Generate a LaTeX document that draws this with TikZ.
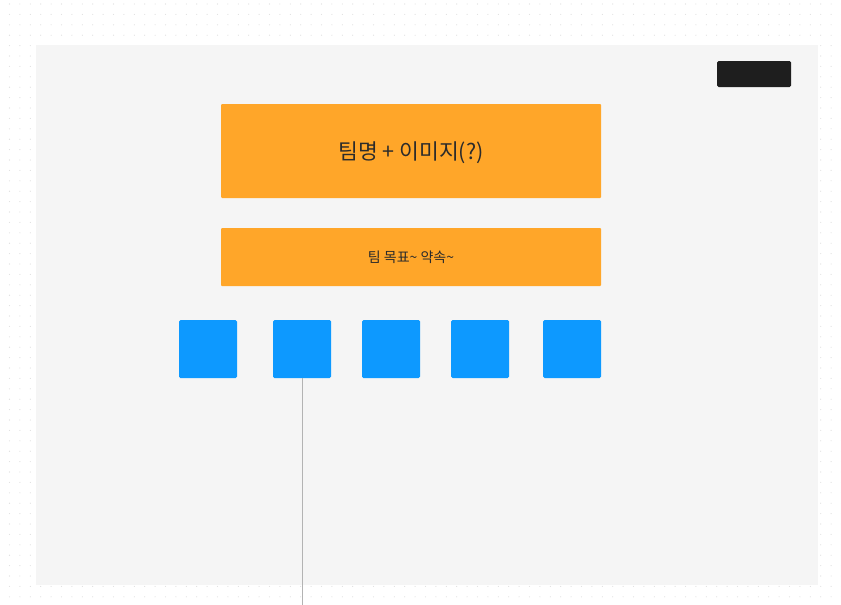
\documentclass[tikz,border=0pt]{standalone}
\usepackage{fontspec}
\setmainfont{Noto Sans CJK KR}
\definecolor{panel}{HTML}{F5F5F5}
\definecolor{orangebox}{HTML}{FFA629}
\definecolor{bluebox}{HTML}{0D99FF}
\definecolor{darkbox}{HTML}{1E1E1E}
\definecolor{txt}{HTML}{2B2B2B}
\definecolor{griddot}{HTML}{DCDCDC}
\definecolor{connector}{HTML}{B3B3B3}
\tikzset{
  obox/.style={fill=orangebox, draw=none, rounded corners=1pt, inner sep=0pt, text=txt},
  bsq/.style={fill=bluebox, draw=none, rounded corners=1.5pt, minimum width=58pt, minimum height=58pt, inner sep=0pt},
  link/.style={draw=connector, line width=0.8pt}
}
\begin{document}
\begin{tikzpicture}[x=1pt,y=-1pt]
\useasboundingbox (0,0) rectangle (841,605);
\fill[white] (0,0) rectangle (841,605);
% dot grid
\foreach \i in {0,...,80}{
  \foreach \j in {0,...,58}{
    \fill[griddot] ({9.5+10.4*\i},{4+10.4*\j}) circle (0.55);
  }
}
% panel
\fill[panel] (36,45) rectangle (818,585);
% dark button
\node[fill=darkbox, rounded corners=1.5pt, minimum width=74pt, minimum height=26pt, inner sep=0pt] (btn) at (754,74) {};
% orange boxes
\node[obox, minimum width=380pt, minimum height=94pt] (title) at (411,151) {};
\node[text=txt, inner sep=0pt, font=\fontsize{21.5}{25}\selectfont] (titletext) at (411,153) {팀명 + 이미지(?)};
\node[obox, minimum width=380pt, minimum height=58pt, font=\fontsize{14}{17}\selectfont] (goal) at (411,257) {팀 목표\textasciitilde{} 약속\textasciitilde{}};
% blue squares
\node[bsq] (s1) at (208,349) {};
\node[bsq] (s2) at (302,349) {};
\node[bsq] (s3) at (391,349) {};
\node[bsq] (s4) at (480,349) {};
\node[bsq] (s5) at (572,349) {};
% connector
\coordinate (lineend) at (302,605);
\draw[link] (s2.south) -- (lineend);
\end{tikzpicture}
\end{document}
